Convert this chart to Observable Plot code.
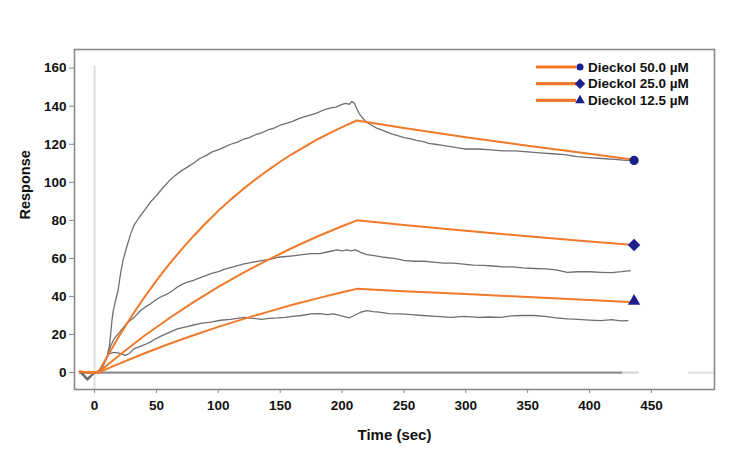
<!DOCTYPE html>
<html>
<head>
<meta charset="utf-8">
<script src="https://cdn.jsdelivr.net/npm/d3@7"></script>
<script src="https://cdn.jsdelivr.net/npm/@observablehq/plot@0.6"></script>
<style>
  html, body { margin: 0; padding: 0; background: #fff; }
  #wrap { position: relative; width: 747px; height: 460px; font-family: "Liberation Sans", Arial, sans-serif; }
  #legend { position: absolute; left: 534px; top: 58px; }
</style>
</head>
<body>
<div id="wrap"><div id="chart"></div><div id="legend"></div></div>
<script>
// ---- tick labels ----
const xTicks = [0, 50, 100, 150, 200, 250, 300, 350, 400, 450];
const yTicks = [0, 20, 40, 60, 80, 100, 120, 140, 160];

// ---- series labels ----
const seriesNames = ["Dieckol 50.0 \u00b5M", "Dieckol 25.0 \u00b5M", "Dieckol 12.5 \u00b5M"];
const seriesSymbols = ["circle", "diamond2", "triangle"];

// ---- measured (raw) sensorgrams ----
const raw50Time = [-12,-10,-8,-6,-4,-2,0,2,4,6,8,10,12,13,14,15,17,19,21,23,26,29,32,36,40,45,50,55,60,65,70,75,80,85,90,95,100,105,110,115,120,125,130,135,140,145,150,155,160,165,170,175,180,185,190,195,200,203,206,208,210,212,214,217,220,224,228,232,236,240,245,250,255,260,265,270,275,280,285,290,295,300,310,320,330,340,350,360,370,380,390,400,410,420,430,435];
const raw50Resp = [0.5,0,-1.5,-3,-2,-1,-0.5,0.5,1,3.5,5.5,8,14,20,27,32,38,43,52,59,66,72.5,77.5,81.5,85,89.5,93,97,100.5,103.5,106,108,110,112.5,114,116,117,118.5,120,121,122.5,123.5,125,126,127.5,128.5,130,131,132,133.5,134.5,135.5,136.5,138,139,139.5,141,141.5,141,142.5,141.5,138.5,136,133.5,131.5,130,128.5,127.5,126.5,125.5,124.5,123.5,123,122,121.5,120.5,120,119.5,119,118.5,118,117.5,117.5,117,116.5,116.5,116,115.5,115,114.5,113.5,113,112.5,112,111.5,111.5];

const raw25Time = [-12,-10,-8,-6,-4,-2,0,2,4,6,8,10,13,16,20,25,28,32,37,41,45,49,53,59,63,67,71,75,80,86,90,94,100,106,112,120,128,136,142,148,155,162,168,175,182,189,196,200,204,207,211,215,220,226,234,242,250,258,266,274,282,290,298,306,314,322,330,338,346,355,364,373,382,391,400,409,418,426,433];
const raw25Resp = [0,-0.5,-2,-3.5,-2.5,-1,0,0.5,1,3,5.5,8,14,18,21,25,27,29,32.5,34.5,36,38,39.6,41.4,43,45,46.5,47.5,48.5,50,51,52,53,54.5,55.5,57,58,59,59.5,60.6,61,61.5,62,62.5,62.5,63.5,64.5,64,64.5,64,64.5,63.2,62,61.5,60.6,60,59,58.5,58.5,58,57.5,57.5,57,56.5,56.3,56,55.5,55.5,55,54.7,54.5,54,52.7,53,53,52.7,52.5,53,53.6];

const raw12Time = [-12,-10,-8,-6,-4,-2,0,2,4,6,8,10,12,15,18,21,25,28,32,36,40,45,50,55,60,67,74,80,87,94,102,110,115,121,128,135,141,148,154,160,167,175,182,188,193,198,202,206,210,215,220,225,230,238,247,256,265,276,288,299,310,319,328,337,346,355,364,373,382,391,400,409,418,425,431];
const raw12Resp = [0,-1,-2.5,-4,-3,-1.5,-0.5,0.5,1,2,5,8,10,10.5,10.5,10,9,10,12.6,13.5,14.5,16,18,19.5,21,23,24,25,26,26.5,27.5,28,28.5,29,28.5,28,28.5,28.7,29,29.5,30,30.8,31,30.5,30.8,30,29.4,28.8,30,31.7,32.5,32,31.8,31,30.8,30.5,30,29.5,29,29.5,29,29.2,29,29.8,30,30,29.5,28.8,28.2,28,27.6,27.3,27.8,27.2,27.3];

// ---- fitted curves ----
const fit50Time = [-12,-6,0,3,10,20,30,40,50,60,70,80,90,100,110,120,130,140,150,160,170,180,190,200,212,250,300,350,400,436];
const fit50Resp = [0.5,0,0,0,8.2,19.3,29.7,39.3,48.3,56.7,64.5,71.8,78.6,85,90.9,96.4,101.5,106.3,110.8,115,118.8,122.5,125.8,129,132.5,128.6,123.7,119.2,115,111.8];
const fitTime = [-12,-6,0,3,20,40,60,80,100,120,140,160,180,200,212,250,300,350,400,436];
const fit25Resp = [0.5,0,0,0,9.1,19.2,28.4,37,45,52.4,59.2,65.6,71.5,76.9,80,77.6,74.5,71.6,68.9,67];
const fit12Resp = [0.5,0,0,0,4.7,10,15,19.6,24,28.1,31.9,35.6,39,42.2,44,42.8,41.3,39.7,38.2,37];

// ---- end markers ----
const endTime = [436, 436, 436];
const endResp = [111.5, 67, 37.5];

// ---- baseline segments ----
const baseX1 = [-12, 427, 480];
const baseX2 = [427, 440, 501];
const injectionTime = [0];
const injectionTop = [161];

// ---- styles ----
const baseShade = ["#8f8f8f", "#d6d6d6", "#e2e2e2"];
const markerR = {circle: 4.6, diamond2: 5.6, triangle: 4.6};
const legendSize = {circle: 40, diamond2: 70, triangle: 40};
const gray = "#6f6f73";
const orange = "#f07a2a";
const navy = "#1c1f8c";
const font = "'Liberation Sans', Arial, sans-serif";

// ---- build tables ----
const zip = (t, r, s) => t.map((x, i) => ({x, y: r[i], s}));
const rawData = [
  ...zip(raw50Time, raw50Resp, seriesNames[0]),
  ...zip(raw25Time, raw25Resp, seriesNames[1]),
  ...zip(raw12Time, raw12Resp, seriesNames[2])
];
const fitData = [
  ...zip(fit50Time, fit50Resp, seriesNames[0]),
  ...zip(fitTime, fit25Resp, seriesNames[1]),
  ...zip(fitTime, fit12Resp, seriesNames[2])
];
const endData = endTime.map((x, i) => ({x, y: endResp[i], sym: seriesSymbols[i]}));
const baseData = baseX1.map((x1, i) => ({x1, x2: baseX2[i], c: baseShade[i]}));

const chart = Plot.plot({
  width: 747,
  height: 460,
  marginLeft: 74,
  marginRight: 33,
  marginTop: 49,
  marginBottom: 71,
  style: {fontFamily: font, fontSize: "13.5px", fontWeight: "bold", color: "#111", background: "#fff"},
  x: {domain: [-16.2, 501]},
  y: {domain: [-8.9, 169.8]},
  symbol: {type: "identity"},
  r: {type: "identity"},
  marks: [
    Plot.ruleX(injectionTime, {x: d => d, y1: -8.9, y2: injectionTop[0], stroke: "#dedede", strokeWidth: 2}),
    Plot.ruleY(baseData, {y: 0, x1: "x1", x2: "x2", stroke: "c", strokeWidth: 2.2}),
    Plot.line(rawData, {x: "x", y: "y", z: "s", stroke: gray, strokeWidth: 1.3}),
    Plot.line(fitData, {x: "x", y: "y", z: "s", stroke: orange, strokeWidth: 2}),
    Plot.dot(endData, {x: "x", y: "y", symbol: "sym", r: d => markerR[d.sym], fill: navy, stroke: "none"}),
    Plot.frame({stroke: "#8a8a8a", strokeWidth: 1.6}),
    Plot.axisX({ticks: xTicks, tickSize: 4, tickPadding: 7, stroke: "#888", label: null}),
    Plot.axisY({ticks: yTicks, tickSize: 5, tickPadding: 3, stroke: "#888", label: null}),
    Plot.text(["Time (sec)"], {text: d => d, frameAnchor: "bottom", dy: 50, fontSize: 15, fill: "#111"}),
    Plot.text(["Response"], {text: d => d, frameAnchor: "left", dx: -49, rotate: -90, fontSize: 14.5, fill: "#111"})
  ]
});
document.getElementById("chart").appendChild(chart);

// ---- legend ----
const lg = d3.select("#legend").append("svg").attr("width", 180).attr("height", 56);
const symMap = {circle: d3.symbolCircle, diamond2: d3.symbolDiamond2, triangle: d3.symbolTriangle};
seriesNames.forEach((name, i) => {
  const g = lg.append("g").attr("transform", `translate(0,${9 + i * 16.7})`);
  g.append("line").attr("x1", 2).attr("x2", 42).attr("y1", 0).attr("y2", 0)
    .attr("stroke", orange).attr("stroke-width", 3.2);
  g.append("path").attr("transform", "translate(46,0)")
    .attr("d", d3.symbol(symMap[seriesSymbols[i]], legendSize[seriesSymbols[i]])()).attr("fill", navy);
  g.append("text").attr("x", 54).attr("y", 0).attr("dy", "0.35em")
    .attr("font-size", 13.5).attr("font-weight", "bold").attr("fill", "#111")
    .attr("font-family", font).text(name);
});
</script>
</body>
</html>
